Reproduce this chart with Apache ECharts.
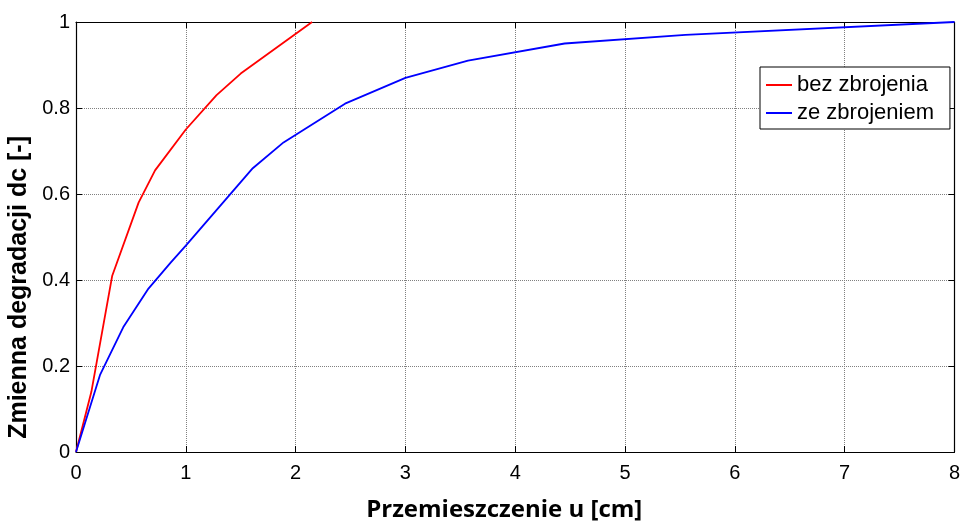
<!DOCTYPE html>
<html>
<head>
<meta charset="utf-8">
<script src="https://cdn.jsdelivr.net/npm/echarts@6/dist/echarts.min.js"></script>
<style>
html,body{margin:0;padding:0;background:#fff;}
#chart{width:963px;height:527px;}
</style>
</head>
<body>
<div id="chart"></div>
<script>
var seriesNames = ['bez zbrojenia', 'ze zbrojeniem'];
var bezX = [0, 0.14, 0.33, 0.57, 0.72, 1.0, 1.28, 1.5, 2.15];
var bezY = [0, 0.14, 0.41, 0.58, 0.655, 0.75, 0.83, 0.88, 1.0];
var zeX = [0, 0.22, 0.43, 0.66, 0.86, 1.0, 1.61, 1.89, 2.45, 3.0, 3.57, 4.45, 5.55, 8];
var zeY = [0, 0.18, 0.29, 0.38, 0.44, 0.48, 0.66, 0.72, 0.81, 0.87, 0.91, 0.95, 0.97, 1.0];
var xTitle = 'Przemieszczenie u [cm]';
var yTitle = 'Zmienna degradacji dc [-]';

function pairs(xs, ys){ return xs.map(function(x,i){ return [x, ys[i]]; }); }

var chart = echarts.init(document.getElementById('chart'), null, {renderer:'canvas'});
var gridLine = {show:true, lineStyle:{color:'#808080', type:'dotted', width:1}};
var labelFont = {fontFamily:'Liberation Sans, Arial, sans-serif', fontSize:20, color:'#000'};
chart.setOption({
  animation:false,
  backgroundColor:'#fff',
  grid:{left:76, right:6, top:22, bottom:67, containLabel:false},
  xAxis:[{
    type:'value', min:0, max:8, interval:1, position:'bottom',
    axisLine:{show:true, onZero:false, lineStyle:{color:'#000', width:1.2}},
    axisTick:{show:true, inside:true, length:6, lineStyle:{color:'#000'}},
    axisLabel:Object.assign({margin:11}, labelFont),
    splitLine:gridLine,
    name:xTitle, nameLocation:'middle', nameGap:46,
    nameTextStyle:{fontFamily:'Open Sans, sans-serif', fontWeight:'bold', fontSize:24, color:'#000', padding:[0,22,0,0]}
  },{
    type:'value', min:0, max:8, interval:1, position:'top',
    axisLine:{show:true, onZero:false, lineStyle:{color:'#000', width:1.2}},
    axisTick:{show:true, inside:true, length:6, lineStyle:{color:'#000'}},
    axisLabel:{show:false}, splitLine:{show:false}
  }],
  yAxis:[{
    type:'value', min:0, max:1, interval:0.2, position:'left',
    axisLine:{show:true, onZero:false, lineStyle:{color:'#000', width:1.2}},
    axisTick:{show:true, inside:true, length:6, lineStyle:{color:'#000'}},
    axisLabel:Object.assign({margin:6, formatter:function(v){return String(+v.toFixed(1));}}, labelFont),
    splitLine:gridLine
  },{
    type:'value', min:0, max:1, interval:0.2, position:'right',
    axisLine:{show:true, onZero:false, lineStyle:{color:'#000', width:1.2}},
    axisTick:{show:true, inside:true, length:6, lineStyle:{color:'#000'}},
    axisLabel:{show:false}, splitLine:{show:false}
  }],
  legend:{
    orient:'vertical', left:760, top:67,
    data:seriesNames,
    icon:'rect', itemWidth:26, itemHeight:2, itemGap:6,
    padding:[7,16,5,6],
    backgroundColor:'#fff', borderColor:'#000', borderWidth:1,
    textStyle:{fontFamily:'Liberation Sans, Arial, sans-serif', fontSize:22, color:'#000'}
  },
  graphic:[{
    type:'text', left:7, top:136, rotation:Math.PI/2,
    style:{text:yTitle, font:'bold 25px "Liberation Sans", Arial, sans-serif', fill:'#000'}
  }],
  series:[{
    name:seriesNames[0], type:'line', data:pairs(bezX, bezY),
    showSymbol:false, symbol:'none', lineStyle:{color:'#ff0000', width:1.8}, itemStyle:{color:'#ff0000'}
  },{
    name:seriesNames[1], type:'line', data:pairs(zeX, zeY),
    showSymbol:false, symbol:'none', lineStyle:{color:'#0000ff', width:1.8}, itemStyle:{color:'#0000ff'}
  }]
});
</script>
</body>
</html>
